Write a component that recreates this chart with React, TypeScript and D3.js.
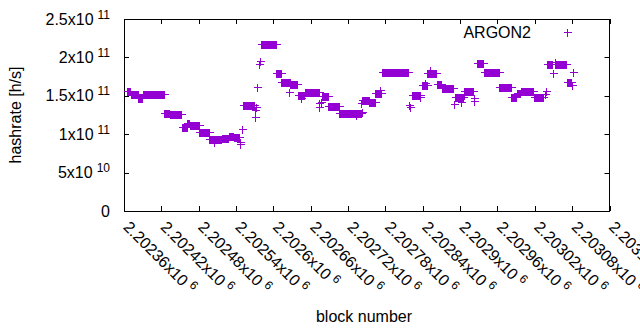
import React from "react";
import * as d3 from "d3";

// Runs of blocks sharing one hashrate value (start block, end block, hashrate in h/s)
const runStart = [
  2202365, 2202371, 2202383, 2202390, 2202425, 2202434, 2202453, 2202462, 2202466, 2202481,
  2202497, 2202504, 2202517, 2202528, 2202536, 2202546, 2202547, 2202550, 2202551, 2202570,
  2202571, 2202572, 2202574, 2202577, 2202579, 2202580, 2202605, 2202613, 2202625, 2202627,
  2202639, 2202645, 2202650, 2202673, 2202674, 2202677, 2202678, 2202688, 2202706, 2202723,
  2202732, 2202741, 2202742, 2202743, 2202754, 2202764, 2202772, 2202774, 2202818, 2202819,
  2202823, 2202836, 2202838, 2202843, 2202847, 2202851, 2202863, 2202871, 2202890, 2202891,
  2202893, 2202902, 2202906, 2202907, 2202922, 2202923, 2202927, 2202938, 2202963, 2202982,
  2202991, 2202998, 2203018, 2203036, 2203038, 2203039, 2203049, 2203052, 2203053, 2203071,
  2203079, 2203081,
];
const runEnd = [
  2202370, 2202382, 2202389, 2202424, 2202433, 2202452, 2202461, 2202465, 2202480, 2202496,
  2202516, 2202504, 2202527, 2202535, 2202545, 2202546, 2202547, 2202550, 2202569, 2202570,
  2202571, 2202572, 2202574, 2202577, 2202579, 2202604, 2202612, 2202626, 2202625, 2202638,
  2202649, 2202645, 2202673, 2202673, 2202674, 2202677, 2202687, 2202705, 2202722, 2202741,
  2202732, 2202741, 2202742, 2202753, 2202763, 2202773, 2202772, 2202817, 2202818, 2202819,
  2202835, 2202836, 2202846, 2202843, 2202862, 2202851, 2202870, 2202888, 2202890, 2202891,
  2202905, 2202902, 2202906, 2202921, 2202922, 2202923, 2202937, 2202962, 2202981, 2202990,
  2202997, 2203017, 2203033, 2203036, 2203038, 2203048, 2203049, 2203052, 2203070, 2203078,
  2203079, 2203081,
];
const runHashrate = [
  156.2e9, 151.9e9, 147.5e9, 151.9e9, 127.2e9, 125.9e9, 109.8e9, 114.2e9, 112.0e9, 102.5e9,
  93.4e9, 90.2e9, 94.7e9, 98.0e9, 96.0e9, 90.2e9, 86.8e9, 106.4e9, 137.6e9, 122.8e9,
  131.5e9, 135.8e9, 161.1e9, 191.0e9, 195.7e9, 217.0e9, 179.3e9, 167.6e9, 155.3e9, 165.0e9,
  151.0e9, 146.7e9, 154.5e9, 140.2e9, 135.0e9, 142.3e9, 150.1e9, 136.7e9, 127.2e9, 128.0e9,
  125.0e9, 140.2e9, 129.3e9, 144.5e9, 142.3e9, 153.2e9, 157.5e9, 181.4e9, 138.0e9, 135.0e9,
  151.4e9, 148.8e9, 164.1e9, 166.3e9, 179.3e9, 183.6e9, 165.4e9, 159.8e9, 138.9e9, 148.0e9,
  148.0e9, 141.9e9, 151.0e9, 155.8e9, 143.6e9, 147.5e9, 192.3e9, 180.6e9, 161.1e9, 148.8e9,
  153.0e9, 156.2e9, 148.0e9, 152.3e9, 156.2e9, 191.0e9, 179.3e9, 194.4e9, 191.0e9, 168.6e9,
  164.1e9, 180.6e9,
];

const xTicks = [
  2202360, 2202420, 2202480, 2202540, 2202600, 2202660, 2202720, 2202780, 2202840, 2202900,
  2202960, 2203020, 2203080, 2203140,
];
const xTickMantissa = [
  "2.20236", "2.20242", "2.20248", "2.20254", "2.2026", "2.20266", "2.20272", "2.20278",
  "2.20284", "2.2029", "2.20296", "2.20302", "2.20308", "2.20314",
];
const xTickExponent = "6";
const yTicks = [0, 5e10, 1e11, 1.5e11, 2e11, 2.5e11];
const yTickMantissa = ["0", "5x10", "1x10", "1.5x10", "2x10", "2.5x10"];
const yTickExponent = ["", "10", "11", "11", "11", "11"];
const seriesName = "ARGON2";

const COLOR = "#9400d3";
const FONT = "'Liberation Sans', Arial, sans-serif";

export default function App() {
  const W = 640, H = 330;
  const left = 124, right = 609.5, top = 19, bottom = 211;
  const x = d3.scaleLinear().domain([2202360, 2203140]).range([left, right]);
  const y = d3.scaleLinear().domain([0, 2.5e11]).range([bottom, top]);

  const pts: { b: number; v: number }[] = [];
  runStart.forEach((s, i) => {
    d3.range(s, runEnd[i] + 1).forEach((b) => pts.push({ b, v: runHashrate[i] }));
  });
  const arm = 3.5;
  const plus = (px: number, py: number) => {
    const cx = Math.round(px) + 0.5;
    const cy = Math.round(py) + 0.5;
    return `M${cx - arm - 0.5},${cy}h${2 * arm + 1}M${cx},${cy - arm - 0.5}v${2 * arm + 1}`;
  };
  const markerPath = pts.map((p) => plus(x(p.b), y(p.v))).join("");

  const tick = 5;
  const fs = 16;
  const sfs = 12;
  return (
    <svg
      width={W}
      height={H}
      style={{ position: "absolute", left: 0, top: 0, background: "#fff" }}
      fontFamily={FONT}
    >
      <rect x={0} y={0} width={W} height={H} fill="#fff" />
      {/* y ticks */}
      {yTicks.map((t, i) => {
        const ty = Math.round(y(t)) + 0.5;
        return (
          <g key={"y" + i}>
            <line x1={left} x2={left + tick} y1={ty} y2={ty} stroke="#000" />
            <line x1={right - tick} x2={right} y1={ty} y2={ty} stroke="#000" />
            <text x={110} y={y(t) + 5.5} textAnchor="end" fontSize={fs} fill="#000">
              {yTickMantissa[i]}
              {yTickExponent[i] && (
                <tspan dx={4} dy={-6} fontSize={sfs}>
                  {yTickExponent[i]}
                </tspan>
              )}
            </text>
          </g>
        );
      })}
      {/* x ticks */}
      {xTicks.map((t, i) => {
        const tx = Math.round(x(t)) + 0.5;
        return (
          <g key={"x" + i}>
            <line x1={tx} x2={tx} y1={bottom} y2={bottom - tick} stroke="#000" />
            <line x1={tx} x2={tx} y1={top} y2={top + tick} stroke="#000" />
            <text
              transform={`translate(${x(t) - 1.5},228) rotate(45)`}
              fontSize={fs}
              fill="#000"
            >
              {xTickMantissa[i]}x10
              <tspan dx={4} dy={-6} fontSize={sfs}>
                {xTickExponent}
              </tspan>
            </text>
          </g>
        );
      })}
      {/* frame */}
      <rect
        x={left + 0.5}
        y={top + 0.5}
        width={right - left - 0.5}
        height={bottom - top}
        fill="none"
        stroke="#000"
      />
      {/* data */}
      <path d={markerPath} stroke={COLOR} strokeWidth={1} fill="none" shapeRendering="crispEdges" />
      {/* legend */}
      <text x={531} y={37.5} textAnchor="end" fontSize={fs} fill="#000">
        {seriesName}
      </text>
      <path d={plus(567, 32)} stroke={COLOR} strokeWidth={1} fill="none" shapeRendering="crispEdges" />
      {/* axis titles */}
      <text
        transform="translate(21,115) rotate(-90)"
        textAnchor="middle"
        fontSize={fs}
        fill="#000"
      >
        hashrate [h/s]
      </text>
      <text x={364} y={321.5} textAnchor="middle" fontSize={fs} fill="#000">
        block number
      </text>
    </svg>
  );
}
